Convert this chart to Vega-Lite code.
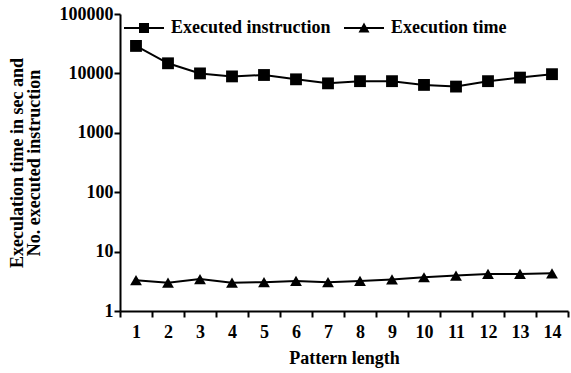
{
  "$schema": "https://vega.github.io/schema/vega-lite/v6.json",
  "width": 448,
  "height": 297,
  "autosize": {"type": "none"},
  "padding": {"left": 120, "top": 14, "right": 3, "bottom": 62},
  "background": "white",
  "config": {
    "view": {"stroke": null},
    "font": "Liberation Serif, Times New Roman, DejaVu Serif, serif",
    "axis": {
      "labelFont": "Liberation Serif, Times New Roman, DejaVu Serif, serif", "labelFontWeight": "bold", "labelFontSize": 18, "labelColor": "black",
      "titleFont": "Liberation Serif, Times New Roman, DejaVu Serif, serif", "titleFontWeight": "bold", "titleFontSize": 18, "titleColor": "black",
      "domainColor": "black", "domainWidth": 2, "tickColor": "black", "tickWidth": 2, "tickSize": 6, "grid": false
    },
    "legend": {
      "labelFont": "Liberation Serif, Times New Roman, DejaVu Serif, serif", "labelFontWeight": "bold", "labelFontSize": 18, "labelColor": "black"
    }
  },
  "data": {
    "values": [
      {"len": 1, "series": "Executed instruction", "v": 29000},
      {"len": 2, "series": "Executed instruction", "v": 14800},
      {"len": 3, "series": "Executed instruction", "v": 10000},
      {"len": 4, "series": "Executed instruction", "v": 8900},
      {"len": 5, "series": "Executed instruction", "v": 9400},
      {"len": 6, "series": "Executed instruction", "v": 7950},
      {"len": 7, "series": "Executed instruction", "v": 6800},
      {"len": 8, "series": "Executed instruction", "v": 7400},
      {"len": 9, "series": "Executed instruction", "v": 7400},
      {"len": 10, "series": "Executed instruction", "v": 6400},
      {"len": 11, "series": "Executed instruction", "v": 6000},
      {"len": 12, "series": "Executed instruction", "v": 7400},
      {"len": 13, "series": "Executed instruction", "v": 8500},
      {"len": 14, "series": "Executed instruction", "v": 9700},
      {"len": 1, "series": "Execution time", "v": 3.3},
      {"len": 2, "series": "Execution time", "v": 3.0},
      {"len": 3, "series": "Execution time", "v": 3.45},
      {"len": 4, "series": "Execution time", "v": 3.0},
      {"len": 5, "series": "Execution time", "v": 3.05},
      {"len": 6, "series": "Execution time", "v": 3.2},
      {"len": 7, "series": "Execution time", "v": 3.05},
      {"len": 8, "series": "Execution time", "v": 3.2},
      {"len": 9, "series": "Execution time", "v": 3.4},
      {"len": 10, "series": "Execution time", "v": 3.7},
      {"len": 11, "series": "Execution time", "v": 3.95},
      {"len": 12, "series": "Execution time", "v": 4.2},
      {"len": 13, "series": "Execution time", "v": 4.2},
      {"len": 14, "series": "Execution time", "v": 4.3}
    ]
  },
  "encoding": {
    "x": {
      "field": "len", "type": "ordinal",
      "scale": {"type": "band", "paddingInner": 0, "paddingOuter": 0},
      "axis": {"title": "Pattern length", "labelAngle": 0, "tickBand": "extent", "labelPadding": 6, "titlePadding": 8}
    },
    "y": {
      "field": "v", "type": "quantitative",
      "scale": {"type": "log", "domain": [1, 100000], "nice": false},
      "axis": {
        "title": ["Execulation time in sec and", "No. executed instruction"],
        "values": [1, 10, 100, 1000, 10000, 100000], "format": "d",
        "labelPadding": 1, "titlePadding": 16, "titleLineHeight": 17
      }
    }
  },
  "layer": [
    {
      "mark": {"type": "line", "color": "black", "strokeWidth": 2},
      "encoding": {"detail": {"field": "series"}}
    },
    {
      "mark": {"type": "point", "filled": true, "color": "black", "opacity": 1, "size": 140},
      "encoding": {
        "shape": {
          "field": "series", "type": "nominal",
          "scale": {"domain": ["Executed instruction", "Execution time"], "range": ["square", "triangle-up"]},
          "legend": null
        }
      }
    },
    {
      "mark": {"type": "point", "filled": true, "color": "black", "opacity": 0, "size": 100},
      "encoding": {
        "shape": {
          "field": "series", "type": "nominal",
          "scale": {"domain": ["Executed instruction", "Execution time"], "range": ["M-4,-0.2H4V0.2H-4ZM-1,-1H1V1H-1Z", "M-4,-0.2H4V0.2H-4ZM0,-1.1L1.1,0.9H-1.1Z"]},
          "legend": {
            "title": null, "orient": "none", "direction": "horizontal",
            "legendX": 15, "legendY": 5, "symbolOpacity": 1,
            "symbolSize": 100, "labelOffset": 18, "columnPadding": 10,
            "encode": {
              "symbols": {
                "update": {
                  "fill": {"value": "black"}, "opacity": {"value": 1}, "fillOpacity": {"value": 1}
                }
              }
            }
          }
        }
      }
    }
  ],
  "resolve": {"scale": {"shape": "independent"}}
}
